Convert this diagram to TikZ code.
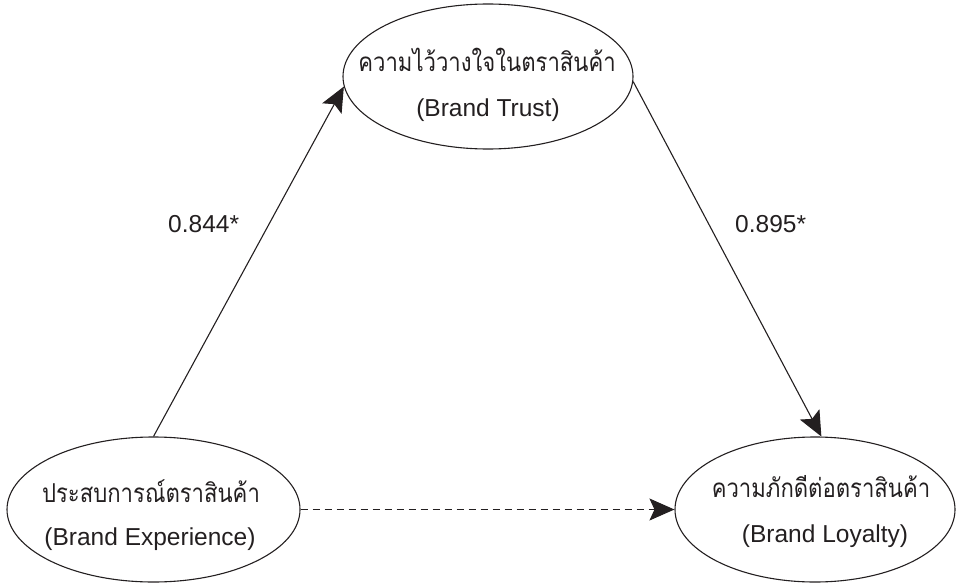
\documentclass[tikz,border=0pt]{standalone}
\usepackage{fontspec}
\setmainfont{Liberation Sans}
\newfontfamily\thaifont[Script=Thai,FakeStretch=0.85]{Loma}
\usetikzlibrary{shapes.geometric,arrows.meta}
\definecolor{ink}{HTML}{231F20}
\tikzset{
  ell/.style={draw=ink, ellipse, line width=1.1pt, inner sep=0pt},
  thailabel/.style={anchor=base, inner sep=0pt, text=ink, font=\thaifont\fontsize{26}{30}\selectfont},
  latlabel/.style={anchor=base, inner sep=0pt, text=ink, font=\fontsize{24.5}{28}\selectfont},
  coef/.style={anchor=base west, inner sep=0pt, text=ink, font=\fontsize{24.5}{28}\selectfont},
  conn/.style={draw=ink, line width=1.1pt, -{Stealth[length=25pt,width=22pt,inset=5pt]}},
}
\begin{document}
\begin{tikzpicture}[x=1pt,y=-1pt]
\useasboundingbox (0,0) rectangle (958,583);
\node[ell, minimum width=290pt, minimum height=145pt] (trust) at (488,76.5) {};
\node[ell, minimum width=293pt, minimum height=145pt] (exp) at (153.5,509.5) {};
\node[ell, minimum width=280pt, minimum height=145pt] (loy) at (815,509.5) {};
\node[thailabel] (t1) at (487,72) {ความไว้วางใจในตราสินค้า};
\node[latlabel] (t2) at (488,117) {(Brand Trust)};
\node[thailabel] (e1) at (151,502) {ประสบการณ์ตราสินค้า};
\node[latlabel] (e2) at (150,545) {(Brand Experience)};
\node[thailabel] (l1) at (821,497) {ความภักดีต่อตราสินค้า};
\node[latlabel] (l2) at (825,542) {(Brand Loyalty)};
\node[coef] (c1) at (168,232) {0.844*};
\node[coef] (c2) at (735,232) {0.895*};
\draw[conn] (exp.north) -- (trust.184.5);
\draw[conn] (trust.-2) -- (loy.85);
\draw[conn, dash pattern=on 7pt off 5pt] (exp.east) -- (loy.west);
\end{tikzpicture}
\end{document}
